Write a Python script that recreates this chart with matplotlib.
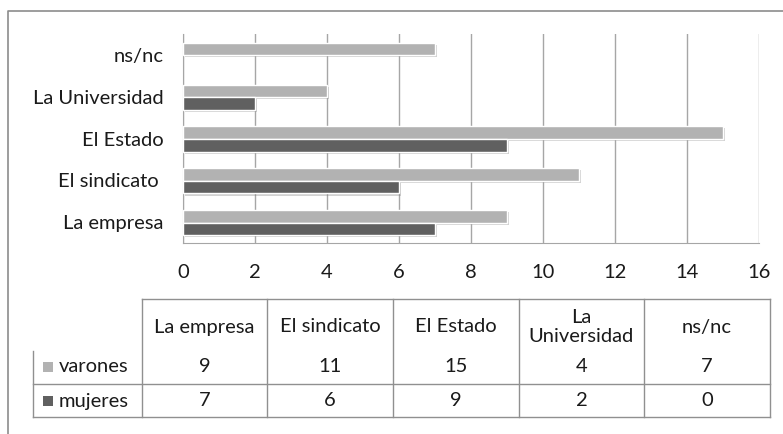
import matplotlib
matplotlib.use('Agg')
import matplotlib.pyplot as plt
import matplotlib.patheffects as pe

plt.rcParams['font.family'] = ['Lato', 'DejaVu Sans']

categories = ['La empresa', 'El sindicato ', 'El Estado', 'La Universidad', 'ns/nc']
header_labels = ['La empresa', 'El sindicato', 'El Estado', 'La\nUniversidad', 'ns/nc']
varones = [9, 11, 15, 4, 7]
mujeres = [7, 6, 9, 2, 0]
series_names = ['varones', 'mujeres']
x_ticks = [0, 2, 4, 6, 8, 10, 12, 14, 16]

c_var = '#b2b2b2'
c_muj = '#606060'
grid_c = '#a6a6a6'
txt_c = '#1a1a1a'
fs = 14.5
W, H = 783, 434


def fx(x):
    return x / W


def fy(y):
    return 1 - y / H


fig = plt.figure(figsize=(W / 100, H / 100), dpi=100)
fig.patch.set_facecolor('white')

# outer frame (left and top edges visible)
fig.add_artist(plt.Line2D([fx(8), fx(8), fx(783)], [fy(434), fy(11), fy(11)],
                          transform=fig.transFigure, color='#8c8c8c', lw=1.2))

ax = fig.add_axes([fx(183), fy(243), fx(759) - fx(183), fy(34) - fy(243)])
ax.set_xlim(0, 16)
ax.set_ylim(-0.5, 4.5)

shadow = [pe.SimplePatchShadow(offset=(1.5, -1.5), shadow_rgbFace='#808080', alpha=0.35), pe.Normal()]
ypos = range(len(categories))
h = 0.3
for i in ypos:
    if varones[i] > 0:
        ax.barh(i + 0.14, varones[i], height=h, color=c_var, edgecolor='white',
                linewidth=1, path_effects=shadow, zorder=3)
    if mujeres[i] > 0:
        ax.barh(i - 0.165, mujeres[i], height=h, color=c_muj, edgecolor='white',
                linewidth=1, path_effects=shadow, zorder=3)

ax.set_yticks(list(ypos))
ax.set_yticklabels(categories, fontsize=fs, color=txt_c)
ax.set_xticks(x_ticks)
ax.set_xticklabels([str(t) for t in x_ticks], fontsize=fs, color=txt_c)
ax.tick_params(axis='both', length=0)
ax.tick_params(axis='x', pad=15)
ax.tick_params(axis='y', pad=14)
ax.grid(axis='x', color=grid_c, lw=1, zorder=0)
for s in ['top', 'right']:
    ax.spines[s].set_visible(False)
ax.spines['left'].set_color(grid_c)
ax.spines['bottom'].set_color(grid_c)

# data table
col_x = [142, 267, 393, 519, 644, 770]
y_top, y_rh, y_mid, y_bot = 299, 351, 384, 417
lc = '#909090'


def hline(y, x0, x1):
    fig.add_artist(plt.Line2D([fx(x0), fx(x1)], [fy(y), fy(y)], transform=fig.transFigure, color=lc, lw=1))


def vline(x, y0, y1):
    fig.add_artist(plt.Line2D([fx(x), fx(x)], [fy(y0), fy(y1)], transform=fig.transFigure, color=lc, lw=1))


hline(y_top, col_x[0], col_x[-1])
hline(y_mid, 33, col_x[-1])
hline(y_bot, 33, col_x[-1])
vline(33, y_rh, y_bot)
for x in col_x:
    vline(x, y_top, y_bot)

for j, lab in enumerate(header_labels):
    cx = (col_x[j] + col_x[j + 1]) / 2
    fig.text(fx(cx), fy(327), lab, ha='center', va='center', fontsize=fs,
             color=txt_c, linespacing=1.1)
    fig.text(fx(cx), fy(367), str(varones[j]), ha='center', va='center', fontsize=fs, color=txt_c)
    fig.text(fx(cx), fy(401), str(mujeres[j]), ha='center', va='center', fontsize=fs, color=txt_c)

for name, col, yc in [(series_names[0], c_var, 367), (series_names[1], c_muj, 401)]:
    fig.add_artist(plt.Rectangle((fx(43), fy(yc + 5)), fx(10), 10 / H, transform=fig.transFigure,
                                 facecolor=col, edgecolor='none'))
    fig.text(fx(59), fy(yc), name, ha='left', va='center', fontsize=fs, color=txt_c)

fig.savefig('out.png', dpi=100)
